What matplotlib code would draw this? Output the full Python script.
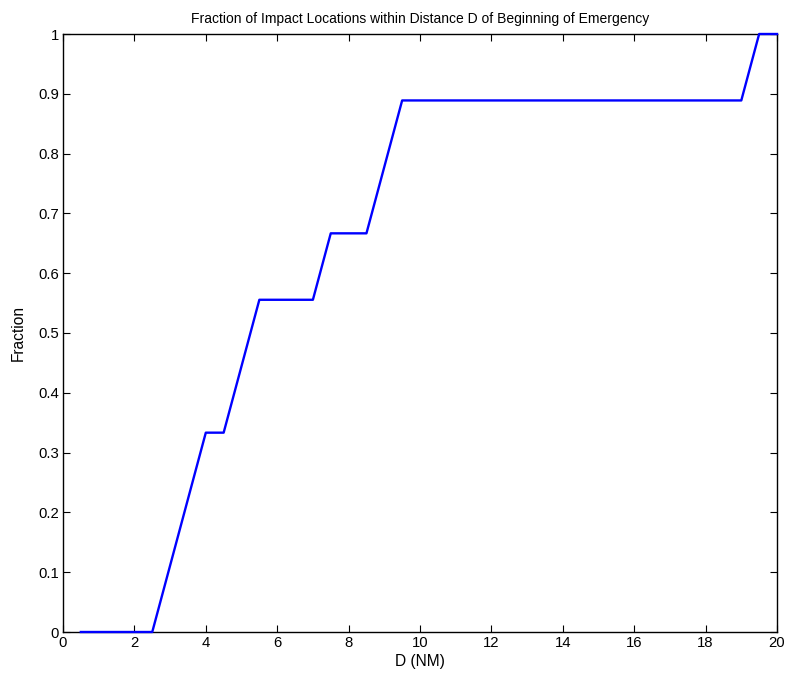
import numpy as np
import matplotlib
matplotlib.use("Agg")
import matplotlib.pyplot as plt

plt.rcParams['font.family'] = ['Liberation Sans', 'DejaVu Sans']

# distance D (NM) and fraction of impact locations
d_nm = [0.5, 2.5, 4.0, 4.5, 5.5, 7.0, 7.5, 8.5, 9.5, 19.0, 19.5, 20.0]
fraction = [0.0, 0.0, 1/3, 1/3, 5/9, 5/9, 2/3, 2/3, 8/9, 8/9, 1.0, 1.0]

fig = plt.figure(figsize=(7.85, 6.75), dpi=100)
ax = fig.add_axes([63/785, 43/675, (777-63)/785, (632-34)/675])

ax.plot(d_nm, fraction, color='#0000ff', linewidth=1.7, clip_on=False, zorder=5)

ax.set_xlim(0, 20)
ax.set_ylim(0, 1)
ax.set_xticks(np.arange(0, 21, 2))
ax.set_yticks(np.arange(0, 1.01, 0.1))
ax.set_yticklabels(['0', '0.1', '0.2', '0.3', '0.4', '0.5', '0.6', '0.7', '0.8', '0.9', '1'])
ax.tick_params(direction='in', top=True, right=True, labelsize=10.7, length=5, width=0.8, pad=3)
for s in ax.spines.values():
    s.set_linewidth(1.0)

ax.set_xlabel("D (NM)", fontsize=11.2, labelpad=3)
ax.set_ylabel("Fraction", fontsize=11.2, labelpad=9)
ax.set_title("Fraction of Impact Locations within Distance D of Beginning of Emergency", fontsize=10, pad=8)

fig.savefig("out.png", dpi=100)
